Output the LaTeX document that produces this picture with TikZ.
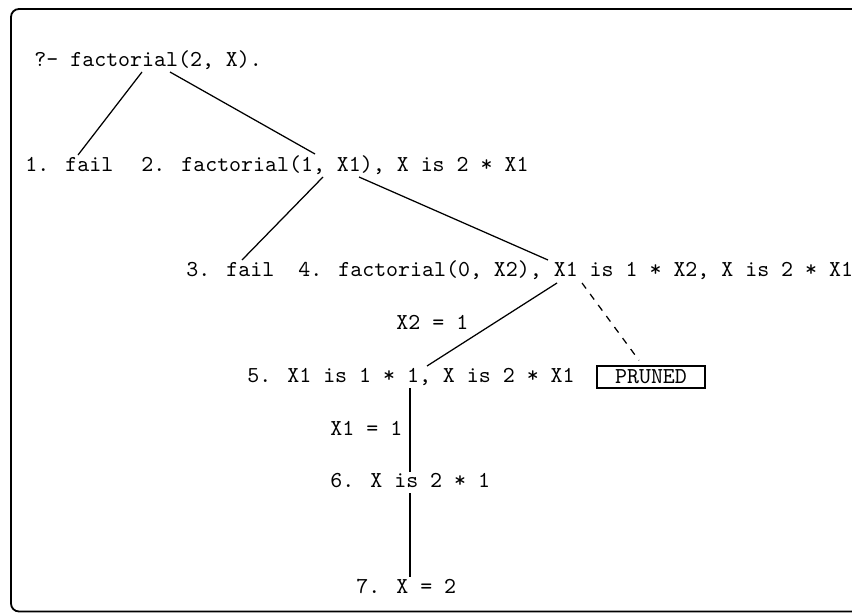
\documentclass[tikz,border=0pt]{standalone}
\usetikzlibrary{calc}
\begin{document}
\begin{tikzpicture}[x=0.4386pt,y=-0.4386pt,
  lbl/.style={inner sep=0pt,anchor=base west,font=\ttfamily\fontsize{10}{12}\selectfont},
  edge/.style={line width=0.55pt},
  prunedbox/.style={draw,line width=0.55pt,inner sep=0pt,minimum width=47.4pt,minimum height=9.65pt,font=\ttfamily\fontsize{10}{12}\selectfont}]
\useasboundingbox (0,0) rectangle (852,612);
\draw[line width=0.8pt,rounded corners=3.5pt] (11,9) rectangle (890,611.5);
% nodes
\node[lbl] (root) at (34,66) {?- factorial(2, X).};
\node[lbl] (n1) at (25,171) {1. fail};
\node[lbl] (n2) at (141,171) {2. factorial(1, X1), X is 2 * X1};
\node[lbl] (n3) at (186,276) {3. fail};
\node[lbl] (n4) at (298,276) {4. factorial(0, X2), X1 is 1 * X2, X is 2 * X1};
\node[lbl] (n5) at (247,382) {5. X1 is 1 * 1, X is 2 * X1};
\node[prunedbox] (pr) at (651,377) {PRUNED};
\node[lbl] (n6) at (330,487) {6. X is 2 * 1};
\node[lbl] (n7) at (356,593) {7. X = 2};
% edge labels
\node[lbl] (l45) at (396,329) {X2 = 1};
\node[lbl] (l56) at (330,435) {X1 = 1};
% connectors
\draw[edge] ($(root.base west)+(108,6)$) -- ($(n1.base west)+(53,-16)$);
\draw[edge] ($(root.base west)+(136,6)$) -- ($(n2.base west)+(174,-17)$);
\draw[edge] ($(n2.base west)+(182,6)$) -- ($(n3.base west)+(56,-16)$);
\draw[edge] ($(n2.base west)+(218,6)$) -- ($(n4.base west)+(250,-16)$);
\draw[edge] ($(n4.base west)+(259,7)$) -- ($(n5.base west)+(180,-16)$);
\draw[edge,dashed] ($(n4.base west)+(284,7)$) -- ($(pr.north)+(-12,-5)$);
\draw[edge] ($(n5.base west)+(163,6)$) -- ($(n6.base west)+(80,-15)$);
\draw[edge] ($(n6.base west)+(80,6)$) -- ($(n7.base west)+(54,-16)$);
\end{tikzpicture}
\end{document}
